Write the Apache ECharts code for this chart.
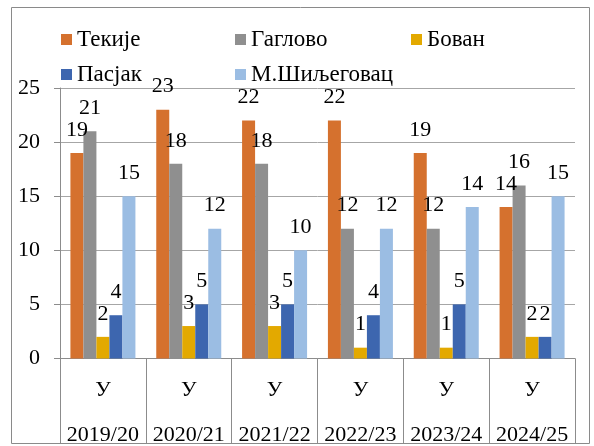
<!DOCTYPE html>
<html>
<head>
<meta charset="utf-8">
<script src="https://cdn.jsdelivr.net/npm/echarts@6/dist/echarts.min.js"></script>
<style>
  html, body { margin: 0; padding: 0; background: #fff; overflow: hidden; }
  #chart { width: 594px; height: 446px; }
</style>
</head>
<body>
<div id="chart"></div>
<script>
// data
const years = ["2019/20", "2020/21", "2021/22", "2022/23", "2023/24", "2024/25"];
const subLabel = "У";
const seriesNames = ["Текије", "Гаглово", "Бован", "Пасјак", "М.Шиљеговац"];
const tekije = [19, 23, 22, 22, 19, 14];
const gaglovo = [21, 18, 18, 12, 12, 16];
const bovan = [2, 3, 3, 1, 1, 2];
const pasjak = [4, 5, 5, 4, 5, 2];
const siljegovac = [15, 12, 10, 12, 14, 15];
const yTicks = [0, 5, 10, 15, 20, 25];

const colors = ["#D5712E", "#8F8F8F", "#E3A900", "#3D66AF", "#9BBDE3"];
const serif = "'Times New Roman', 'Liberation Serif', serif";

let chart = echarts.init(document.getElementById("chart"));

let legendStyle = {
  orient: "vertical",
  top: 28,
  padding: 0,
  icon: "rect",
  itemWidth: 11,
  itemHeight: 11,
  itemGap: 12,
  selectedMode: false,
  textStyle: { fontFamily: serif, fontSize: 23, color: "#000", lineHeight: 22 }
};

// outer frame
let frame = { color: "#8a8a8a", x1: 11.5, y1: 7.5, x2: 589.5, y2: 443.5 };
let frameLine = (x1, y1, x2, y2) => ({
  type: "line",
  shape: { x1: x1, y1: y1, x2: x2, y2: y2 },
  style: { stroke: frame.color, lineWidth: 1 },
  z: 100
});

chart.setOption({
  animation: false,
  color: colors,
  graphic: [
    frameLine(frame.x1, frame.y1, frame.x2, frame.y1),
    frameLine(frame.x1, frame.y1, frame.x1, frame.y2),
    frameLine(frame.x2, frame.y1, frame.x2, frame.y2),
    frameLine(frame.x1, frame.y2, frame.x2, frame.y2)
  ],
  legend: [
    Object.assign({ left: 61, data: ["Текије", "Пасјак"] }, legendStyle),
    Object.assign({ left: 235, data: ["Гаглово", "М.Шиљеговац"] }, legendStyle),
    Object.assign({ left: 411, data: ["Бован"] }, legendStyle)
  ],
  grid: { left: 60, right: 19, top: 88, bottom: 87 },
  xAxis: {
    type: "category",
    data: years,
    axisLine: { show: true, lineStyle: { color: "#8c8c8c" } },
    axisTick: { show: true, interval: 0, length: 85, lineStyle: { color: "#8c8c8c" } },
    axisLabel: {
      margin: 9,
      interval: 0,
      color: "#000",
      fontFamily: serif,
      formatter: v => "{a|" + subLabel + "}\n{b|" + v + "}",
      rich: {
        a: { fontFamily: serif, fontSize: 22, lineHeight: 45, color: "#000" },
        b: { fontFamily: serif, fontSize: 22, lineHeight: 45, color: "#000" }
      }
    }
  },
  yAxis: {
    type: "value",
    min: yTicks[0],
    max: yTicks[yTicks.length - 1],
    interval: 5,
    axisLine: { show: true, lineStyle: { color: "#8c8c8c" } },
    axisTick: { show: true, length: 6, lineStyle: { color: "#8c8c8c" } },
    axisLabel: { margin: 20, color: "#000", fontFamily: serif, fontSize: 22 },
    splitLine: { lineStyle: { color: "#a6a6a6" } }
  },
  series: [tekije, gaglovo, bovan, pasjak, siljegovac].map((values, i) => {
    return {
      name: seriesNames[i],
      type: "bar",
      data: values,
      barWidth: 13,
      barGap: "0%",
      label: {
        show: true,
        position: "top",
        distance: 12,
        color: "#000",
        fontFamily: serif,
        fontSize: 22
      }
    };
  })
});
</script>
</body>
</html>
